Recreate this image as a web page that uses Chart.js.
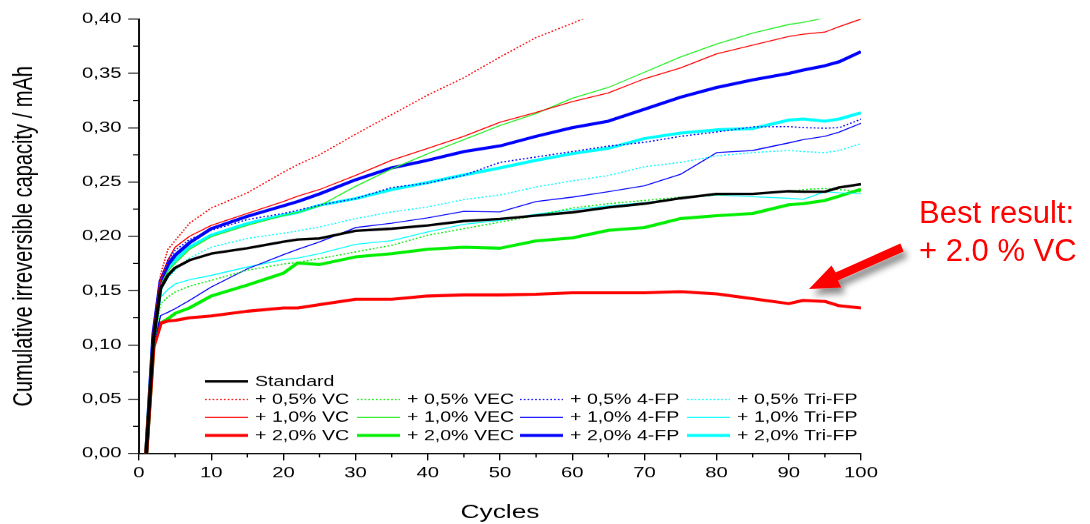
<!DOCTYPE html>
<html>
<head>
<meta charset="utf-8">
<title>Cumulative irreversible capacity</title>
<script src="https://cdn.jsdelivr.net/npm/chart.js@4.4.1/dist/chart.umd.min.js"></script>
<style>
  html, body { margin: 0; padding: 0; background: #fff; overflow: hidden; width: 1090px; height: 524px; }
  #wrap { position: relative; width: 1090px; height: 524px; }
  #plot { position: absolute; left: 0; top: 0; transform-origin: 0 0; }
  #note { position: absolute; left: 0; top: 0; pointer-events: none; }
</style>
</head>
<body>
<div id="wrap">
  <canvas id="plot" width="807" height="524"></canvas>
  <svg id="note" width="1090" height="524" xmlns="http://www.w3.org/2000/svg">
    <defs>
      <filter id="shadow" x="-30%" y="-60%" width="170%" height="260%">
        <feDropShadow dx="4" dy="6" stdDeviation="3" flood-color="#000" flood-opacity="0.45"/>
      </filter>
    </defs>
    <polygon filter="url(#shadow)" fill="#ff0000"
      points="900.4,243.4 835.6,272.4 831.5,265.6 809,289 841.3,287.5 838.0,280.6 903.6,251.6"/>
    <text x="919" y="223" font-family="'Liberation Sans', Arial, Helvetica, sans-serif" font-size="31" fill="#ff0000">Best result:</text>
    <text x="919" y="261" font-family="'Liberation Sans', Arial, Helvetica, sans-serif" font-size="31" fill="#ff0000">+ 2.0 % VC</text>
  </svg>
</div>
<script>
// Cycle numbers shared by every series
const cycles = [1, 2, 3, 4, 5, 7, 10, 15, 20, 22, 25, 30, 35, 40, 45, 50, 55, 60, 65, 70, 75, 80, 85, 90, 92, 95, 97, 100];

// Cumulative irreversible capacity (mAh) per electrolyte
const standard = [0, 0.105, 0.152, 0.164, 0.171, 0.178, 0.184, 0.189, 0.195, 0.197, 0.198, 0.205, 0.207, 0.210, 0.214, 0.216, 0.219, 0.222, 0.2265, 0.230, 0.235, 0.239, 0.239, 0.2415, 0.241, 0.241, 0.245, 0.248];

const vc05  = [0, 0.115, 0.165, 0.188, 0.196, 0.212, 0.226, 0.240, 0.259, 0.266, 0.275, 0.294, 0.312, 0.330, 0.346, 0.365, 0.383, 0.396, 0.41, null, null, null, null, null, null, null, null, null];
const vec05 = [0, 0.098, 0.138, 0.144, 0.1487, 0.154, 0.1594, 0.1687, 0.1745, 0.176, 0.1794, 0.1856, 0.1917, 0.201, 0.207, 0.213, 0.219, 0.226, 0.230, 0.233, 0.236, 0.238, 0.2393, 0.241, 0.243, 0.244, 0.243, 0.241];
const fp05  = [0, 0.11, 0.16, 0.178, 0.187, 0.197, 0.2055, 0.2154, 0.221, 0.224, 0.2286, 0.2347, 0.2449, 0.249, 0.2562, 0.268, 0.273, 0.278, 0.283, 0.2865, 0.292, 0.296, 0.3007, 0.301, 0.300, 0.2995, 0.300, 0.3078];
const tri05 = [0, 0.10, 0.15, 0.162, 0.1687, 0.180, 0.190, 0.198, 0.2028, 0.205, 0.2086, 0.2163, 0.2224, 0.227, 0.2338, 0.238, 0.2454, 0.251, 0.256, 0.264, 0.268, 0.274, 0.277, 0.279, 0.278, 0.277, 0.279, 0.2854];

const vc10  = [0, 0.11, 0.16, 0.178, 0.190, 0.200, 0.210, 0.221, 0.232, 0.237, 0.243, 0.256, 0.270, 0.281, 0.292, 0.305, 0.314, 0.324, 0.332, 0.345, 0.355, 0.368, 0.376, 0.384, 0.386, 0.388, 0.393, 0.400];
const vec10 = [0, 0.105, 0.155, 0.168, 0.175, 0.188, 0.1995, 0.210, 0.219, 0.222, 0.228, 0.246, 0.262, 0.276, 0.289, 0.302, 0.313, 0.327, 0.337, 0.351, 0.365, 0.377, 0.387, 0.395, 0.397, 0.401, 0.405, 0.41];
const fp10  = [0, 0.10, 0.127, 0.130, 0.1333, 0.141, 0.1533, 0.170, 0.183, 0.188, 0.1948, 0.208, 0.212, 0.217, 0.223, 0.2224, 0.232, 0.236, 0.241, 0.2465, 0.257, 0.277, 0.279, 0.286, 0.289, 0.292, 0.296, 0.304];
const tri10 = [0, 0.10, 0.144, 0.151, 0.156, 0.160, 0.164, 0.1717, 0.1785, 0.180, 0.184, 0.1926, 0.196, 0.204, 0.211, 0.2147, 0.2203, 0.2245, 0.228, 0.231, 0.235, 0.238, 0.2364, 0.235, 0.234, 0.241, 0.240, 0.2393];

const vc20  = [0, 0.098, 0.120, 0.122, 0.1226, 0.125, 0.1266, 0.131, 0.134, 0.134, 0.137, 0.142, 0.142, 0.145, 0.146, 0.146, 0.1466, 0.148, 0.148, 0.148, 0.149, 0.147, 0.1425, 0.138, 0.141, 0.140, 0.136, 0.134];
const vec20 = [0, 0.100, 0.120, 0.124, 0.129, 0.134, 0.145, 0.155, 0.166, 0.1755, 0.174, 0.181, 0.184, 0.188, 0.190, 0.189, 0.1957, 0.1985, 0.2055, 0.208, 0.2163, 0.219, 0.221, 0.229, 0.230, 0.233, 0.237, 0.2433];
const fp20  = [0, 0.11, 0.159, 0.174, 0.1825, 0.194, 0.207, 0.2184, 0.228, 0.232, 0.239, 0.252, 0.263, 0.270, 0.278, 0.2832, 0.292, 0.300, 0.306, 0.317, 0.328, 0.337, 0.344, 0.350, 0.353, 0.357, 0.3607, 0.370];
const tri20 = [0, 0.105, 0.155, 0.170, 0.178, 0.190, 0.201, 0.2117, 0.2195, 0.222, 0.2286, 0.2347, 0.243, 0.2495, 0.2565, 0.263, 0.270, 0.276, 0.281, 0.290, 0.295, 0.298, 0.2992, 0.307, 0.308, 0.306, 0.308, 0.3137];

// Axis ticks
const xTicksMinor = [5, 15, 25, 35, 45, 55, 65, 75, 85, 95];
const yTicksMinor = [0.025, 0.075, 0.125, 0.175, 0.225, 0.275, 0.325, 0.375];

// The plot is drawn narrow and widened horizontally by CSS, so text and
// marks get the same wide proportions as the exported figure.
const STRETCH = 1090 / 807;
const sx = v => v / STRETCH;
const FONT = "'Liberation Sans', Arial, Helvetica, sans-serif";

const RED = '#ff0000', GREEN = '#00ee00', BLUE = '#0000ff', CYAN = '#00ffff';
const DOT = [1.3, 1.5];

const series = [
  { label: 'Standard',        data: standard, color: '#000000', width: 2.5, dash: [] },
  { label: '+ 0,5% VC',       data: vc05,  color: RED,   width: 1.2, dash: DOT },
  { label: '+ 0,5% VEC',      data: vec05, color: GREEN, width: 1.2, dash: DOT },
  { label: '+ 0,5% 4-FP',     data: fp05,  color: BLUE,  width: 1.2, dash: DOT },
  { label: '+ 0,5% Tri-FP',   data: tri05, color: CYAN,  width: 1.2, dash: DOT },
  { label: '+ 1,0% VC',       data: vc10,  color: RED,   width: 1, dash: [] },
  { label: '+ 1,0% VEC',      data: vec10, color: '#22ee22', width: 1, dash: [] },
  { label: '+ 1,0% 4-FP',     data: fp10,  color: BLUE,  width: 1, dash: [] },
  { label: '+ 1,0% Tri-FP',   data: tri10, color: CYAN,  width: 1, dash: [] },
  { label: '+ 2,0% VC',       data: vc20,  color: RED,   width: 3, dash: [] },
  { label: '+ 2,0% VEC',      data: vec20, color: GREEN, width: 3, dash: [] },
  { label: '+ 2,0% 4-FP',     data: fp20,  color: BLUE,  width: 3, dash: [] },
  { label: '+ 2,0% Tri-FP',   data: tri20, color: CYAN,  width: 3, dash: [] }
];

const datasets = series.map(s => ({
  label: s.label,
  data: cycles.map((c, i) => ({ x: c, y: s.data[i] })),
  borderColor: s.color,
  backgroundColor: s.color,
  borderWidth: s.width,
  borderDash: s.dash,
  borderJoinStyle: 'round',
  pointRadius: 0,
  tension: 0,
  fill: false,
  spanGaps: false
}));

// Legend block inside the plot: Standard alone on the first row,
// then one row per concentration, one column per additive.
const legendColumns = [205, 357, 520, 687];   // sample start (page px)
const legendRows = [381, 399, 417, 435];
const sampleLength = 43;
const sampleGap = 7;

const plotLegend = {
  id: 'plotLegend',
  afterDraw(chart) {
    const ctx = chart.ctx;
    ctx.save();
    ctx.font = `14.5px ${FONT}`;
    ctx.textBaseline = 'middle';
    ctx.textAlign = 'left';
    chart.data.datasets.forEach((ds, i) => {
      const row = i === 0 ? 0 : Math.floor((i - 1) / 4) + 1;
      const col = i === 0 ? 0 : (i - 1) % 4;
      const x0 = sx(legendColumns[col]);
      const x1 = sx(legendColumns[col] + sampleLength);
      const y = legendRows[row];
      ctx.strokeStyle = ds.borderColor;
      ctx.lineWidth = ds.borderWidth;
      ctx.setLineDash(ds.borderDash);
      ctx.beginPath();
      ctx.moveTo(x0, y);
      ctx.lineTo(x1, y);
      ctx.stroke();
      ctx.setLineDash([]);
      ctx.fillStyle = '#000';
      ctx.fillText(ds.label, sx(legendColumns[col] + sampleLength + sampleGap), y + 0.5);
    });
    ctx.restore();
  }
};

// Short minor tick marks between the labelled ones
const minorTicks = {
  id: 'minorTicks',
  afterDraw(chart) {
    const { ctx, chartArea: a } = chart;
    const xs = chart.scales.x, ys = chart.scales.y;
    ctx.save();
    ctx.strokeStyle = '#000';
    ctx.lineWidth = 1;
    ctx.beginPath();
    xTicksMinor.forEach(v => {
      const p = xs.getPixelForValue(v);
      ctx.moveTo(p, a.bottom);
      ctx.lineTo(p, a.bottom + 4);
    });
    yTicksMinor.forEach(v => {
      const p = ys.getPixelForValue(v);
      ctx.moveTo(a.left, p);
      ctx.lineTo(a.left - 4.4, p);
    });
    ctx.stroke();
    ctx.restore();
  }
};

const canvas = document.getElementById('plot');
canvas.style.transform = `scaleX(${STRETCH})`;

new Chart(canvas, {
  type: 'line',
  data: { datasets },
  plugins: [minorTicks, plotLegend],
  options: {
    responsive: false,
    animation: false,
    devicePixelRatio: STRETCH,
    layout: { padding: { left: 0, right: 807 - sx(861), top: 19, bottom: 0 } },
    plugins: { legend: { display: false }, tooltip: { enabled: false } },
    scales: {
      x: {
        type: 'linear',
        min: 0,
        max: 100,
        afterFit(scale) { scale.height = 71; },
        ticks: { stepSize: 10, color: '#000', font: { family: FONT, size: 15 }, padding: 4, maxRotation: 0, autoSkip: false },
        grid: { drawOnChartArea: false, drawTicks: true, tickLength: 7, color: '#000', lineWidth: 1 },
        border: { display: true, color: '#111', width: 1.5 },
        title: { display: true, text: 'Cycles', color: '#000', font: { family: FONT, size: 19.5 }, padding: { top: 0, bottom: 0 } }
      },
      y: {
        type: 'linear',
        min: 0,
        max: 0.4,
        afterFit(scale) { scale.width = sx(139); },
        ticks: {
          stepSize: 0.05,
          color: '#000',
          font: { family: FONT, size: 15 },
          padding: 5,
          callback: v => v.toFixed(2).replace('.', ',')
        },
        grid: { drawOnChartArea: false, drawTicks: true, tickLength: 8, color: '#000', lineWidth: 1 },
        border: { display: true, color: '#111', width: 1.5 },
        title: { display: true, text: 'Cumulative irreversible capacity / mAh', color: '#000', font: { family: FONT, size: 20 }, padding: { top: 6, bottom: 0 } }
      }
    }
  }
});
</script>
</body>
</html>
